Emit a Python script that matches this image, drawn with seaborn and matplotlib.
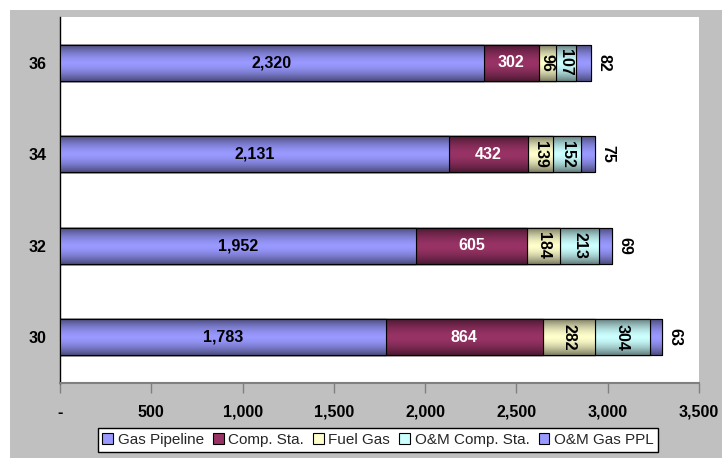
import numpy as np
import matplotlib
matplotlib.use("Agg")
import matplotlib.pyplot as plt
from matplotlib.patches import Rectangle
from matplotlib.ticker import FuncFormatter
import seaborn as sns

# ---- data -------------------------------------------------------------
categories = ["36", "34", "32", "30"]
series_names = ["Gas Pipeline", "Comp. Sta.", "Fuel Gas", "O&M Comp. Sta.", "O&M Gas PPL"]
gas_pipeline = [2320, 2131, 1952, 1783]
comp_sta = [302, 432, 605, 864]
fuel_gas = [96, 139, 184, 282]
om_comp_sta = [107, 152, 213, 304]
om_gas_ppl = [82, 75, 69, 63]
x_ticks = [0, 500, 1000, 1500, 2000, 2500, 3000, 3500]

series_values = [gas_pipeline, comp_sta, fuel_gas, om_comp_sta, om_gas_ppl]
series_colors = ["#9999FF", "#993366", "#FFFFCC", "#CCFFFF", "#9999FF"]
label_colors = ["black", "white", "black", "black", "black"]
label_rotation = [0, 0, -90, -90, -90]

sns.set_theme(style="white")
plt.rcParams["font.family"] = ["Liberation Sans", "DejaVu Sans"]

W, H, DPI = 722, 458, 100
FS = 11.5
fig = plt.figure(figsize=(W / DPI, H / DPI), dpi=DPI, facecolor="white")
# grey chart area
fig.patches.append(Rectangle((10 / W, 0), 1 - 10 / W, 1 - 10 / H,
                             transform=fig.transFigure, facecolor="#C0C0C0",
                             edgecolor="none", zorder=-10))
ax = fig.add_axes([60 / W, 1 - 383 / H, (699 - 60) / W, (383 - 17) / H])
ax.set_facecolor("white")

vals = np.array(series_values, dtype=float)
cum = np.cumsum(vals, axis=0)


def gradient_image(color):
    rgb = np.array(matplotlib.colors.to_rgb(color))
    t = np.linspace(0, 1, 64)
    d = np.abs(2 * t - 1) ** 1.6
    dark = rgb * 0.5
    g = rgb[None, :] * (1 - d[:, None]) + dark[None, :] * d[:, None]
    return g[:, None, :]


# stacked bars: cumulative totals drawn from the longest to the shortest
n = len(series_names)
for layer, k in enumerate(range(n - 1, -1, -1)):
    before = len(ax.patches)
    sns.barplot(x=cum[k], y=categories, order=categories, orient="y",
                color=series_colors[k], saturation=1, width=0.39,
                errorbar=None, edgecolor="black", linewidth=0.8, ax=ax)
    new = ax.patches[before:]
    base = 3 + 3 * layer
    img = gradient_image(series_colors[k])
    for p in new:
        p.set_zorder(base)
        x0, y0, w, h = p.get_x(), p.get_y(), p.get_width(), p.get_height()
        im = ax.imshow(img, extent=[x0, x0 + w, y0 + h, y0], origin="upper",
                       aspect="auto", interpolation="bilinear", zorder=base + 1)
        im.set_clip_path(p)
        ax.add_patch(Rectangle((x0, y0), w, h, fill=False, edgecolor="black",
                               linewidth=0.8, zorder=base + 2))

# value labels
for k in range(n):
    for i, cat in enumerate(categories):
        v = vals[k, i]
        txt = f"{int(v):,}"
        if k == n - 1:
            ax.annotate(txt, xy=(cum[k, i], i), xytext=(9.5, 0),
                        textcoords="offset points", ha="center", va="center",
                        rotation=-90, fontsize=FS, fontweight="bold",
                        color="black", zorder=50)
        else:
            xc = cum[k, i] - v / 2
            ax.text(xc, i, txt, ha="center", va="center",
                    rotation=label_rotation[k], fontsize=FS,
                    fontweight="bold", color=label_colors[k], zorder=50)

ax.set_xlim(0, 3500)
ax.set_ylim(3.5, -0.5)
ax.set_xticks(x_ticks)
ax.xaxis.set_major_formatter(FuncFormatter(lambda v, p: "-" if v == 0 else f"{int(v):,}"))
ax.set_xlabel("")
ax.set_ylabel("")
for s in ["top", "right"]:
    ax.spines[s].set_visible(False)
ax.spines["left"].set_color("black")
ax.spines["left"].set_linewidth(1.0)
ax.spines["bottom"].set_color("#808080")
ax.spines["bottom"].set_linewidth(1.5)
ax.tick_params(axis="x", bottom=True, direction="out", length=7, width=1,
               color="#808080", pad=8.5, labelsize=FS)
ax.tick_params(axis="y", left=False, length=0, pad=9.5, labelsize=FS)
for lab in ax.get_xticklabels() + ax.get_yticklabels():
    lab.set_fontweight("bold")
    lab.set_color("black")

# legend
handles = [Rectangle((0, 0), 1, 1, facecolor=c, edgecolor="black", linewidth=0.8)
           for c in series_colors]
leg = fig.legend(handles, series_names, loc="center", bbox_to_anchor=(378 / W, 1 - 440 / H),
                 ncol=5, fontsize=11, frameon=True, fancybox=False, framealpha=1,
                 edgecolor="black", handlelength=0.7, handleheight=0.7,
                 handletextpad=0.3, columnspacing=0.6, borderpad=0.3,
                 borderaxespad=0)
leg.get_frame().set_linewidth(1.0)

fig.savefig("out.png", dpi=DPI, facecolor=fig.get_facecolor())
